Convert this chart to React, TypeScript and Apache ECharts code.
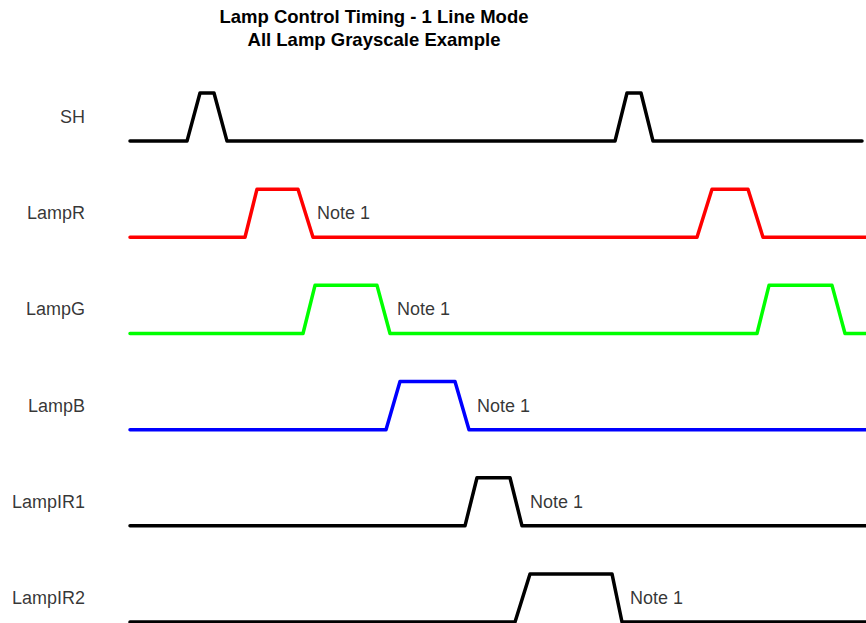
import React, { useEffect, useRef } from "react";
import * as echarts from "echarts";

// Signal names (top to bottom) and colors
const signalNames = ["SH", "LampR", "LampG", "LampB", "LampIR1", "LampIR2"];
const signalColors = ["#000000", "#ff0000", "#00ff00", "#0000ff", "#000000", "#000000"];

// Pulses per signal: [riseStart, highStart, highEnd, fallEnd] in time units
const pulsesSH = [[57, 70, 84, 97], [485, 497, 511, 523]];
const pulsesR = [[115, 127, 168, 183], [567, 582, 618, 633]];
const pulsesG = [[173, 185, 247, 260], [627, 639, 702, 715]];
const pulsesB = [[256, 270, 325, 339]];
const pulsesIR1 = [[335, 347, 380, 392]];
const pulsesIR2 = [[385, 400, 482, 492]];
const signalPulses = [pulsesSH, pulsesR, pulsesG, pulsesB, pulsesIR1, pulsesIR2];

// Trace start/end times
const traceStart = [0, 0, 0, 0, 0, 0];
const traceEnd = [732, 736, 736, 736, 736, 736];

// "Note 1" annotations: signal index and time position
const noteSignals = [1, 2, 3, 4, 5];
const noteTimes = [187, 267, 347, 400, 500];
const noteText = "Note 1";

const titleLines = ["Lamp Control Timing - 1 Line Mode", "All Lamp Grayscale Example"];

const labelTime = -45;

const FONT = '"Liberation Sans", Arial, sans-serif';

export default function App() {
  const ref = useRef<HTMLDivElement>(null);

  useEffect(() => {
    if (!ref.current) return;
    const chart = echarts.init(ref.current, null, { renderer: "svg" });
    const nRows = signalNames.length;
    const base = (i: number) => (nRows - 1 - i) * 2;

    const lineSeries = signalNames.map((name, i) => {
      const b = base(i);
      const pts: number[][] = [[traceStart[i], b]];
      signalPulses[i].forEach((p) => {
        pts.push([p[0], b], [p[1], b + 1], [p[2], b + 1], [p[3], b]);
      });
      pts.push([traceEnd[i], b]);
      return {
        name,
        type: "line",
        data: pts,
        symbol: "none",
        clip: false,
        silent: true,
        lineStyle: { color: signalColors[i], width: 3.5, join: "round", cap: "round" },
      };
    });

    const labelSeries = {
      type: "scatter",
      symbolSize: 0,
      silent: true,
      clip: false,
      data: signalNames.map((n, i) => ({ value: [labelTime, base(i) + 0.5], name: n })),
      label: {
        show: true,
        position: "inside",
        align: "right",
        verticalAlign: "middle",
        formatter: (p: any) => p.name,
        fontFamily: FONT,
        fontSize: 18,
        color: "#000",
      },
    };

    const noteSeries = {
      type: "scatter",
      symbolSize: 0,
      silent: true,
      clip: false,
      data: noteSignals.map((s, k) => ({ value: [noteTimes[k], base(s) + 0.5], name: noteText })),
      label: {
        show: true,
        position: "inside",
        align: "left",
        verticalAlign: "middle",
        formatter: (p: any) => p.name,
        fontFamily: FONT,
        fontSize: 18,
        color: "#000",
      },
    };

    chart.setOption({
      animation: false,
      grid: { left: 0, right: 0, top: 93, bottom: 1 },
      xAxis: { type: "value", min: -130, max: 736, show: false },
      yAxis: { type: "value", min: 0, max: 11, show: false },
      graphic: titleLines.map((t, k) => ({
        type: "text",
        x: 374,
        y: 16 + k * 23,
        silent: true,
        style: {
          text: t,
          font: `bold 18.5px ${FONT}`,
          fill: "#000",
          align: "center",
          textAlign: "center",
          verticalAlign: "middle",
          textVerticalAlign: "middle",
        },
      })),
      series: [...lineSeries, labelSeries, noteSeries],
    });
    return () => chart.dispose();
  }, []);

  return (
    <div
      ref={ref}
      style={{ position: "fixed", left: 0, top: 0, width: 866, height: 623, background: "#fff" }}
    />
  );
}
